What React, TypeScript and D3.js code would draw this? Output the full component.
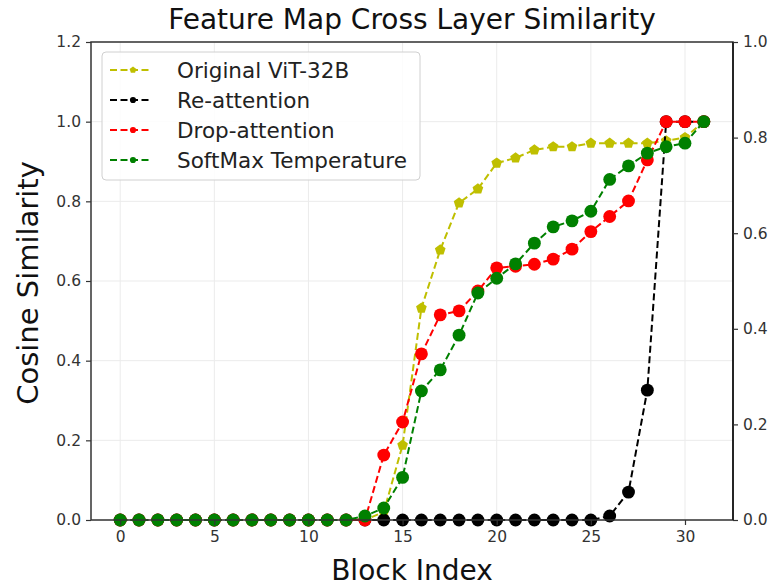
import React, { useEffect, useRef } from "react";
import * as d3 from "d3";

const blocks = d3.range(0, 32);

const originalVit = [0, 0, 0, 0, 0, 0, 0, 0, 0, 0, 0, 0, 0, 0, 0.02, 0.188, 0.532, 0.678, 0.796, 0.831, 0.896, 0.909, 0.929, 0.937, 0.937, 0.946, 0.946, 0.946, 0.946, 0.952, 0.96, 1.0];
const reAttention = [0, 0, 0, 0, 0, 0, 0, 0, 0, 0, 0, 0, 0, 0, 0, 0, 0, 0, 0, 0, 0, 0, 0, 0, 0, 0, 0.01, 0.07, 0.326, 1.0, 1.0, 1.0];
const dropAttention = [0, 0, 0, 0, 0, 0, 0, 0, 0, 0, 0, 0, 0, 0, 0.163, 0.246, 0.417, 0.515, 0.525, 0.575, 0.633, 0.637, 0.642, 0.655, 0.68, 0.724, 0.762, 0.801, 0.904, 1.0, 1.0, 1.0];
const softmaxTemp = [0, 0, 0, 0, 0, 0, 0, 0, 0, 0, 0, 0, 0, 0.01, 0.03, 0.107, 0.324, 0.377, 0.464, 0.57, 0.607, 0.643, 0.695, 0.736, 0.751, 0.775, 0.855, 0.889, 0.921, 0.937, 0.946, 1.0];

const seriesNames = ["Original ViT-32B", "Re-attention", "Drop-attention", "SoftMax Temperature"];
const seriesColors = ["#bfbf00", "#000000", "#ff0000", "#008000"];

const xTicks = [0, 5, 10, 15, 20, 25, 30];
const leftTicks = [0, 0.2, 0.4, 0.6, 0.8, 1.0, 1.2];
const rightTicks = [0, 0.2, 0.4, 0.6, 0.8, 1.0];

const pentagon = {
	draw(ctx, size) {
		const r = Math.sqrt(size / 2.38);
		for (let i = 0; i < 5; i++) {
			const a = -Math.PI / 2 + (i * 2 * Math.PI) / 5;
			const px = r * Math.cos(a), py = r * Math.sin(a);
			if (i === 0) ctx.moveTo(px, py);
			else ctx.lineTo(px, py);
		}
		ctx.closePath();
	},
};

const App = () => {
	const chartRef = useRef<SVGSVGElement>(null);

	useEffect(() => {
		const width = 776;
		const height = 586;
		const m = { left: 91, right: 733, top: 42, bottom: 520 };
		const font = "'DejaVu Sans', sans-serif";

		const svg = d3.select(chartRef.current);
		svg.selectAll("*").remove();
		svg.attr("width", width).attr("height", height);

		svg.append("rect").attr("width", width).attr("height", height).attr("fill", "white");

		const x = d3.scaleLinear().domain([-1.55, 32.55]).range([m.left, m.right]);
		const y = d3.scaleLinear().domain([0, 1.2]).range([m.bottom, m.top]);
		const y2 = d3.scaleLinear().domain([0, 1.0]).range([m.bottom, m.top]);

		// grid
		const grid = svg.append("g").attr("stroke", "#ebebeb").attr("stroke-width", 1);
		xTicks.forEach((t) => {
			grid.append("line").attr("x1", x(t)).attr("x2", x(t)).attr("y1", m.top).attr("y2", m.bottom);
		});
		leftTicks.forEach((t) => {
			grid.append("line").attr("x1", m.left).attr("x2", m.right).attr("y1", y(t)).attr("y2", y(t));
		});

		const all = [originalVit, reAttention, dropAttention, softmaxTemp];
		const line = d3.line<number>().x((d, i) => x(blocks[i])).y((d) => y(d));

		all.forEach((vals, s) => {
			const g = svg.append("g");
			g.append("path")
				.attr("d", line(vals))
				.attr("fill", "none")
				.attr("stroke", seriesColors[s])
				.attr("stroke-width", 2)
				.attr("stroke-dasharray", "7,3.5");
			const sym = s === 0 ? d3.symbol(pentagon, 75) : d3.symbol(d3.symbolCircle, 130);
			g.selectAll("path.pt")
				.data(vals)
				.enter()
				.append("path")
				.attr("class", "pt")
				.attr("d", sym)
				.attr("transform", (d, i) => `translate(${x(blocks[i])},${y(d)})`)
				.attr("fill", seriesColors[s]);
		});

		// frame
		svg.append("rect")
			.attr("x", m.left).attr("y", m.top)
			.attr("width", m.right - m.left).attr("height", m.bottom - m.top)
			.attr("fill", "none").attr("stroke", "#333").attr("stroke-width", 1.5);
		svg.append("line")
			.attr("x1", m.right).attr("x2", m.right).attr("y1", m.top).attr("y2", m.bottom)
			.attr("stroke", "#111").attr("stroke-width", 1.5);

		const tickStyle = (g) => {
			g.select(".domain").remove();
			g.selectAll("line").attr("stroke", "#333").attr("stroke-width", 1.2);
			g.selectAll("text").attr("font-family", font).attr("font-size", 15.5).attr("fill", "#333");
		};

		svg.append("g")
			.attr("transform", `translate(0,${m.bottom})`)
			.call(d3.axisBottom(x).tickValues(xTicks).tickSize(5).tickPadding(6).tickFormat(d3.format("d")))
			.call(tickStyle);
		svg.append("g")
			.attr("transform", `translate(${m.left},0)`)
			.call(d3.axisLeft(y).tickValues(leftTicks).tickSize(5).tickPadding(5).tickFormat(d3.format(".1f")))
			.call(tickStyle);
		svg.append("g")
			.attr("transform", `translate(${m.right},0)`)
			.call(d3.axisRight(y2).tickValues(rightTicks).tickSize(5).tickPadding(5).tickFormat(d3.format(".1f")))
			.call(tickStyle);

		// titles
		svg.append("text")
			.attr("x", (m.left + m.right) / 2).attr("y", 29)
			.attr("text-anchor", "middle")
			.attr("font-family", font).attr("font-size", 28).attr("fill", "#111")
			.text("Feature Map Cross Layer Similarity");
		svg.append("text")
			.attr("x", (m.left + m.right) / 2).attr("y", 580)
			.attr("text-anchor", "middle")
			.attr("font-family", font).attr("font-size", 28).attr("fill", "#111")
			.text("Block Index");
		svg.append("text")
			.attr("transform", `translate(38,${(m.top + m.bottom) / 2 + 2}) rotate(-90)`)
			.attr("text-anchor", "middle")
			.attr("font-family", font).attr("font-size", 29).attr("fill", "#111")
			.text("Cosine Similarity");

		// legend
		const lg = svg.append("g").attr("transform", "translate(102,52)");
		lg.append("rect")
			.attr("width", 318).attr("height", 128).attr("rx", 4)
			.attr("fill", "white").attr("fill-opacity", 0.85)
			.attr("stroke", "#d0d0d0").attr("stroke-width", 1);
		seriesNames.forEach((name, s) => {
			const cy = 18 + s * 30;
			lg.append("line")
				.attr("x1", 8).attr("x2", 47).attr("y1", cy).attr("y2", cy)
				.attr("stroke", seriesColors[s]).attr("stroke-width", 2)
				.attr("stroke-dasharray", "7,3.5");
			lg.append("path")
				.attr("d", s === 0 ? d3.symbol(pentagon, 30)() : d3.symbol(d3.symbolCircle, 30)())
				.attr("transform", `translate(31,${cy})`)
				.attr("fill", seriesColors[s]);
			lg.append("text")
				.attr("x", 75).attr("y", cy + 7.5)
				.attr("font-family", font).attr("font-size", 21.5).attr("fill", "#222")
				.text(name);
		});
	}, []);

	return <svg ref={chartRef} style={{ position: "absolute", left: 0, top: 0 }}></svg>;
};

export default App;
